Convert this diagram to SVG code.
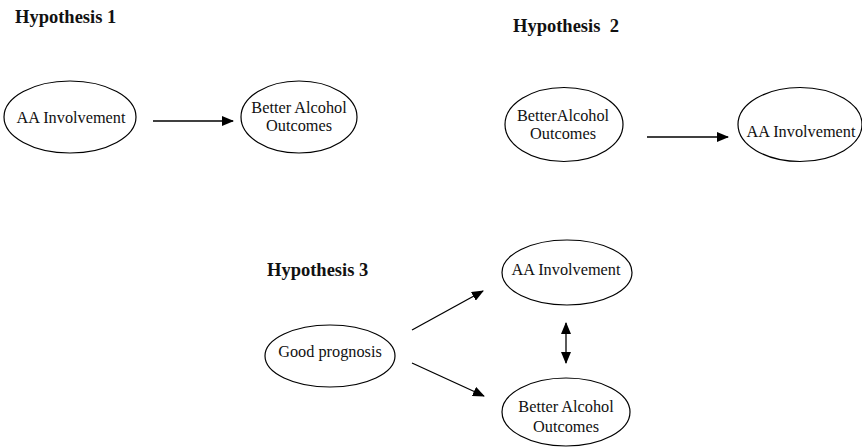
<svg xmlns="http://www.w3.org/2000/svg" width="862" height="448" viewBox="0 0 862 448">
<defs>
<style>
.n{fill:#fff;stroke:#000;stroke-width:1.2}
.t{font-family:"Liberation Serif","Times New Roman",serif;font-size:16.3px;fill:#111;text-anchor:middle}
.h{font-family:"Liberation Serif","Times New Roman",serif;font-size:18.5px;font-weight:bold;fill:#111}
.c{stroke:#000;stroke-width:1.3;fill:none}
</style>
<marker id="ah" markerUnits="userSpaceOnUse" markerWidth="12" markerHeight="10" refX="11" refY="5" orient="auto-start-reverse" viewBox="0 0 12 10">
<path d="M0,0 L12,5 L0,10 Z" fill="#000"/>
</marker>
</defs>
<rect width="862" height="448" fill="#fff"/>
<text class="h" x="15" y="23">Hypothesis 1</text>
<text class="h" x="513" y="32" xml:space="preserve">Hypothesis  2</text>
<text class="h" x="267" y="276">Hypothesis 3</text>
<g id="h1-aa"><ellipse class="n" cx="70" cy="117" rx="66" ry="36"/><text class="t" x="71" y="123">AA Involvement</text></g>
<g id="h1-bao"><ellipse class="n" cx="299" cy="117" rx="58" ry="36"/><text class="t" x="299" y="113">Better Alcohol</text><text class="t" x="299" y="131">Outcomes</text></g>
<g id="h2-bao"><ellipse class="n" cx="564" cy="124.5" rx="59" ry="37"/><text class="t" x="563" y="121">BetterAlcohol</text><text class="t" x="563" y="139">Outcomes</text></g>
<g id="h2-aa"><ellipse class="n" cx="800" cy="124.5" rx="62" ry="37"/><text class="t" x="801" y="137">AA Involvement</text></g>
<g id="h3-gp"><ellipse class="n" cx="330" cy="356" rx="65" ry="31"/><text class="t" x="330" y="357">Good prognosis</text></g>
<g id="h3-aa"><ellipse class="n" cx="567" cy="272.5" rx="65" ry="32.5"/><text class="t" x="566" y="275">AA Involvement</text></g>
<g id="h3-bao"><ellipse class="n" cx="566" cy="412" rx="64" ry="34"/><text class="t" x="566" y="412">Better Alcohol</text><text class="t" x="566" y="432">Outcomes</text></g>
<g id="connectors">
<line class="c" x1="153" y1="121" x2="233" y2="121" marker-end="url(#ah)"/>
<line class="c" x1="647" y1="137" x2="728" y2="137" marker-end="url(#ah)"/>
<line class="c" x1="412" y1="330" x2="483" y2="291" marker-end="url(#ah)"/>
<line class="c" x1="412" y1="363" x2="484" y2="396" marker-end="url(#ah)"/>
<line class="c" x1="566" y1="323" x2="566" y2="363" marker-start="url(#ah)" marker-end="url(#ah)"/>
</g>
</svg>
